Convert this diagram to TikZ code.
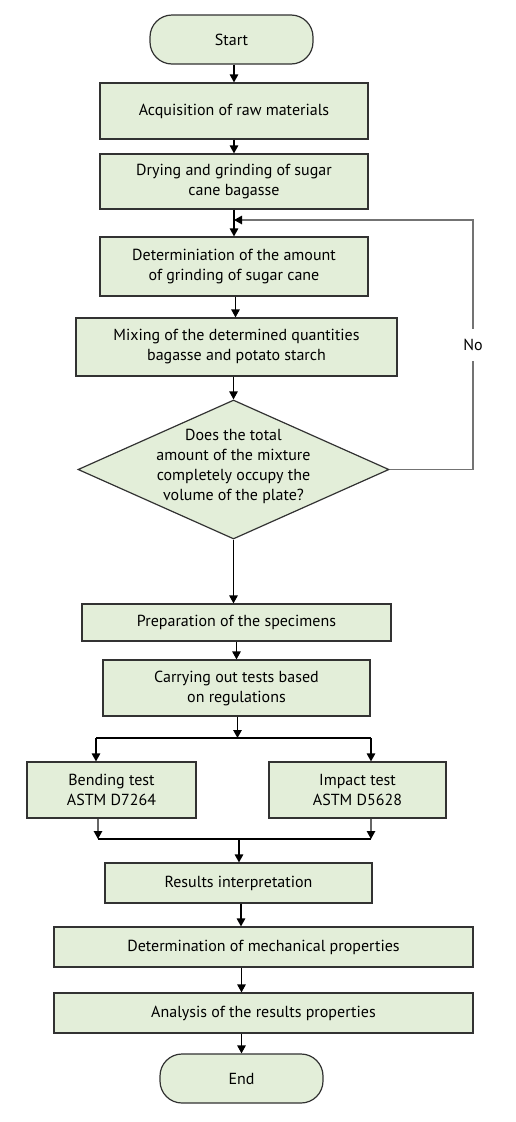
\documentclass[tikz,border=0pt]{standalone}
\usepackage{fontspec}
\setmainfont{PT Sans}
\usepackage{xcolor}
\usetikzlibrary{arrows.meta, shapes.geometric}

\definecolor{boxfill}{RGB}{227,238,217}
\definecolor{boxline}{RGB}{50,50,50}

\begin{document}
\begin{tikzpicture}[
      x=1pt, y=-1pt,
      box/.style={rectangle, draw=boxline, fill=boxfill, line width=1.2pt, font=\fontsize{16}{20}\selectfont, inner sep=0pt, align=center},
      proc/.style={box},
      term/.style={box, rounded corners=22pt, minimum width=163pt, minimum height=49pt},
      decision/.style={diamond, draw=boxline, fill=boxfill, line width=1.2pt, inner sep=0pt, minimum width=311pt, minimum height=139pt},
      arrow/.style={-{Triangle[length=8pt, width=8.5pt, color=black]}, line width=1.2pt},
    ]
    \useasboundingbox[fill=white] (0,0) rectangle (516,1122);

    % main column
    \node[term] (start) at (231.5,39.5) {Start};
    \node[proc, minimum width=268pt, minimum height=56pt] (acq) at (234,111) {Acquisition of raw materials};
    \node[proc, minimum width=268pt, minimum height=55pt] (dry) at (234,181.5) {Drying and grinding of sugar\\ cane bagasse};
    \node[proc, minimum width=268pt, minimum height=59pt] (detn) at (234,266.5) {Determiniation of the amount\\ of grinding of sugar cane};
    \node[proc, minimum width=321pt, minimum height=58pt] (mix) at (236.5,347) {Mixing of the determined quantities\\ bagasse and potato starch};
    \node[decision] (dec) at (233.5,469.5) {};
    \node[font=\fontsize{16}{20}\selectfont, align=center, yshift=3pt] (dectxt) at (dec) {Does the total\\ amount of the mixture\\ completely occupy the\\ volume of the plate?};
    \node[proc, minimum width=309pt, minimum height=37pt] (prep) at (236.5,622.5) {Preparation of the specimens};
    \node[proc, minimum width=267pt, minimum height=56pt] (tests) at (236.5,688) {Carrying out tests based\\ on regulations};

    % the two tests
    \node[proc, minimum width=169pt, minimum height=56pt] (bend) at (111.5,790) {Bending test\\ ASTM D7264};
    \node[proc, minimum width=177pt, minimum height=56pt] (impact) at (357.5,790) {Impact test\\ ASTM D5628};

    \node[proc, minimum width=267pt, minimum height=40pt] (res) at (238.5,883) {Results interpretation};
    \node[proc, minimum width=419pt, minimum height=40pt] (mech) at (263.5,947) {Determination of mechanical properties};
    \node[proc, minimum width=419pt, minimum height=40pt] (anal) at (263.5,1013) {Analysis of the results properties};
    \node[term] (stop) at (241.5,1078.5) {End};

    \coordinate (loop) at (473,220);
    \coordinate (split) at (237.5,738);
    \coordinate (sl) at (96,738);
    \coordinate (sr) at (371,738);
    \coordinate (jl) at (98,839);
    \coordinate (jr) at (371,839);
    \coordinate (join) at (239,839);

    \draw[arrow] (start.south -| acq.north) -- (acq.north);
    \draw[arrow] (acq) -- (dry);
    \draw[arrow] (dry) -- (detn);
    \draw[arrow] (detn.south -| 235.5,0) -- (mix.north -| 235.5,0);
    \draw[arrow] (mix.south -| dec.north) -- (dec.north);
    \draw[arrow] (dec.south) -- (dec.south |- prep.north);
    \draw[arrow] (prep) -- (tests);

    % no -> back to the top
    \draw[arrow, draw=black!55] (dec.east) -| node[pos=0.75, fill=white, text=black, inner xsep=2pt, inner ysep=10pt, font=\fontsize{16}{20}\selectfont] (no) {No} (loop) -- (dry.south |- loop);

    % split into tests
    \draw[arrow] (tests.south -| split) -- (split);
    \draw[line width=1.2pt] (sl) -- (sr);
    \draw[arrow] (sl) -- (sl |- bend.north);
    \draw[arrow] (sr) -- (sr |- impact.north);

    % join back
    \draw[arrow, draw=black!60] (bend.south -| jl) -- (jl);
    \draw[arrow, draw=black!60] (impact.south -| jr) -- (jr);
    \draw[line width=1.2pt] (jl) -- (jr);
    \draw[arrow] (join) -- (join |- res.north);

    \draw[arrow] (res.south -| 241,0) -- (mech.north -| 241,0);
    \draw[arrow] (mech.south -| stop.north) -- (anal.north -| stop.north);
    \draw[arrow] (anal.south -| stop.north) -- (stop.north);
  \end{tikzpicture}
\end{document}
